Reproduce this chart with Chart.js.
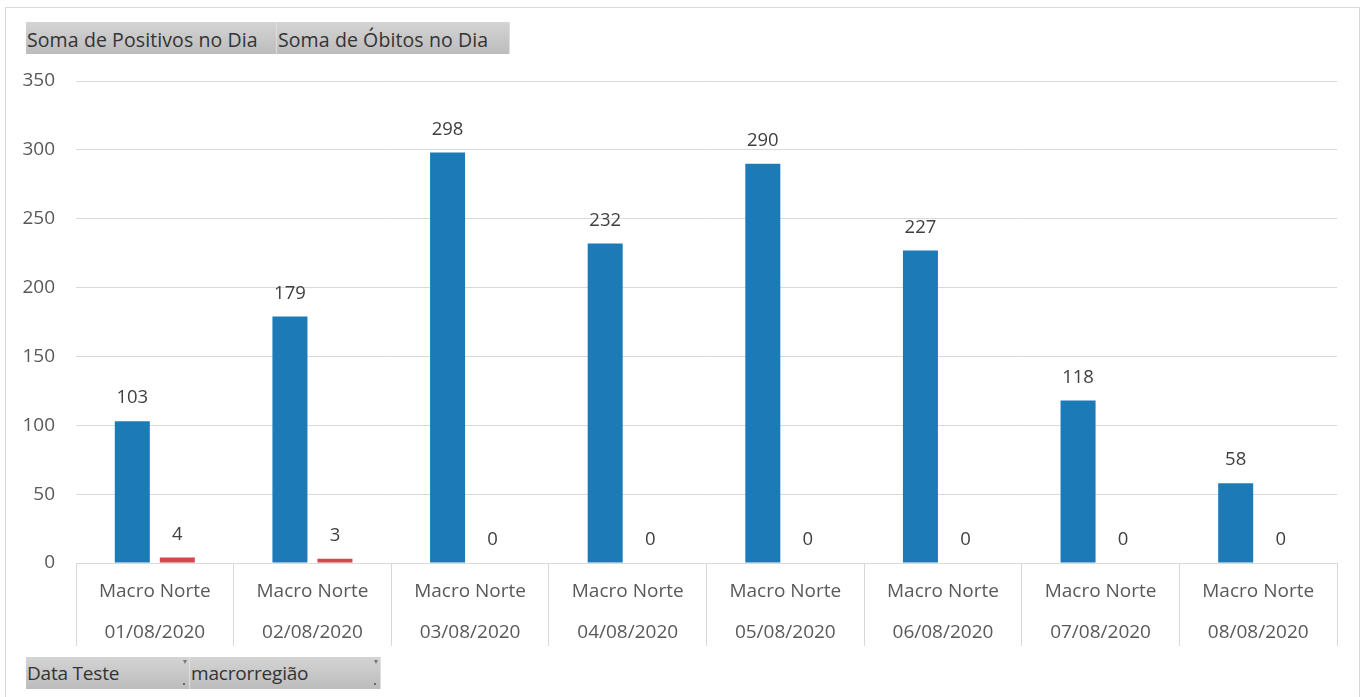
<!DOCTYPE html>
<html>
<head>
<meta charset="utf-8">
<script src="https://cdn.jsdelivr.net/npm/chart.js@4.4.1/dist/chart.umd.min.js"></script>
<style>
  body { margin: 0; background: #fff; font-family: "Open Sans", sans-serif; }
  #wrap { position: relative; width: 1369px; height: 697px; overflow: hidden; }
  #frame { position: absolute; left: 5px; top: 7px; width: 1355px; height: 700px; border: 1px solid #d9d9d9; box-sizing: border-box; }
  canvas { position: absolute; left: 0; top: 0; }
  .botones { position: absolute; display: flex; }
  .boton {
    height: 32px; line-height: 32px; font-size: 19px; color: #333;
    background: linear-gradient(#d4d4d4, #bcbcbc); padding-left: 1px; box-sizing: border-box;
    border-right: 1px solid #dedede; position: relative; white-space: nowrap; letter-spacing: -0.2px;
  }
  .arriba .boton { line-height: 35px; font-size: 19.5px; letter-spacing: 0.1px; }
  .boton .marca { position: absolute; right: 2px; top: 0; font-size: 8px; line-height: 8px; color: #777; }
  .boton .punto { position: absolute; right: 4px; bottom: 4px; width: 2px; height: 2px; background: #666; }
</style>
</head>
<body>
<div id="wrap">
  <div id="frame"></div>
  <canvas id="myChart" width="1369" height="697"></canvas>
  <div class="botones arriba" style="left:26px; top:22px;">
    <div class="boton" style="width:251px;" id="serie-1"></div>
    <div class="boton" style="width:233px;" id="serie-2"></div>
  </div>
  <div class="botones" style="left:26px; top:657px;">
    <div class="boton" style="width:164px;">Data Teste<span class="marca">▾</span><span class="punto"></span></div>
    <div class="boton" style="width:191px;">macrorregião<span class="marca">▾</span><span class="punto"></span></div>
  </div>
</div>
<script>
// Datos del gráfico
const regiones = ["Macro Norte", "Macro Norte", "Macro Norte", "Macro Norte", "Macro Norte", "Macro Norte", "Macro Norte", "Macro Norte"];
const fechas = ["01/08/2020", "02/08/2020", "03/08/2020", "04/08/2020", "05/08/2020", "06/08/2020", "07/08/2020", "08/08/2020"];
const positivos = [103, 179, 298, 232, 290, 227, 118, 58];
const obitos = [4, 3, 0, 0, 0, 0, 0, 0];
const nombreSeries = ["Soma de Positivos no Dia", "Soma de Óbitos no Dia"];
const ticksY = [0, 50, 100, 150, 200, 250, 300, 350];

document.getElementById("serie-1").textContent = nombreSeries[0];
document.getElementById("serie-2").textContent = nombreSeries[1];

// Etiquetas del eje X en dos líneas
const labels = regiones.map((region, i) => [region, fechas[i]]);

// Plugin para escribir el valor encima de cada barra
const etiquetasValor = {
    id: "etiquetasValor",
    afterDatasetsDraw(chart) {
        const ctx = chart.ctx;
        ctx.save();
        ctx.font = '18.5px "Open Sans"';
        ctx.fillStyle = "#404040";
        ctx.textAlign = "center";
        ctx.textBaseline = "middle";
        chart.data.datasets.forEach((dataset, i) => {
            const meta = chart.getDatasetMeta(i);
            meta.data.forEach((barra, j) => {
                ctx.fillText(dataset.data[j], barra.x, barra.y - 23);
            });
        });
        ctx.restore();
    }
};

const config = {
    type: "bar",
    data: {
        labels,
        datasets: [
            {
                label: nombreSeries[0],
                data: positivos,
                backgroundColor: "#1c7bb6",
                categoryPercentage: 0.571,
                barPercentage: 0.778,
            },
            {
                label: nombreSeries[1],
                data: obitos,
                backgroundColor: "#d6464f",
                categoryPercentage: 0.571,
                barPercentage: 0.778,
            }
        ]
    },
    options: {
        responsive: false,
        animation: false,
        layout: {
            padding: { top: 81, right: 32, left: 0, bottom: 0 }
        },
        scales: {
            x: {
                grid: {
                    offset: true,
                    drawOnChartArea: false,
                    drawTicks: true,
                    tickLength: 83,
                    color: "#d9d9d9",
                },
                border: { display: false },
                ticks: {
                    color: "#595959",
                    padding: -74.5,
                    maxRotation: 0,
                    autoSkip: false,
                    font: { family: "Open Sans", size: 19, lineHeight: 2.16 },
                },
                afterFit(scale) { scale.height = 134; }
            },
            y: {
                min: 0,
                max: 350,
                afterBuildTicks(scale) { scale.ticks = ticksY.map(v => ({ value: v })); },
                grid: { color: "#d9d9d9", drawTicks: false, lineWidth: 1 },
                border: { display: false },
                ticks: {
                    color: "#595959",
                    padding: 21,
                    font: { family: "Open Sans", size: 19 },
                },
                afterFit(scale) { scale.width = 76; }
            }
        },
        plugins: {
            legend: { display: false },
            tooltip: { enabled: false },
        }
    },
    plugins: [etiquetasValor]
};

const myChart = document.getElementById("myChart");
new Chart(myChart, config);
</script>
</body>
</html>
